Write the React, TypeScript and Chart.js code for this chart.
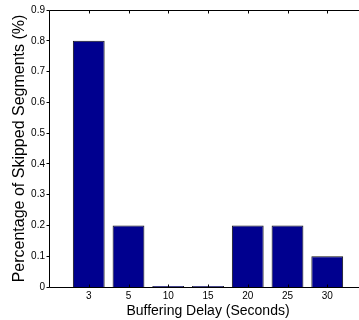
import React, { useEffect, useRef } from 'react';
import { Chart, registerables } from 'chart.js';

Chart.register(...registerables);

// Categories (blank slots at both ends reproduce the MATLAB-style x-limits)
const categories: string[] = ['', '3', '5', '10', '15', '20', '25', '30', ''];
const skipped: (number | null)[] = [null, 0.8, 0.2, 0.003, 0.003, 0.2, 0.2, 0.1, null];
const yTickValues: number[] = [0, 0.1, 0.2, 0.3, 0.4, 0.5, 0.6, 0.7, 0.8, 0.9];
const xTitle = 'Buffering Delay (Seconds)';
const yTitle = 'Percentage of Skipped Segments (%)';

const FONT = "'Liberation Sans', Arial, Helvetica, sans-serif";

const framePlugin = {
  id: 'matlabFrame',
  afterDatasetsDraw(chart: any) {
    const { ctx, chartArea, scales } = chart;
    const { left, right, top, bottom } = chartArea;
    const L = Math.floor(left) + 0.5;
    const R = Math.floor(right) + 0.5;
    const T = Math.floor(top) + 0.5;
    const B = Math.floor(bottom) + 0.5;
    ctx.save();
    ctx.strokeStyle = '#000';
    ctx.lineWidth = 1;
    ctx.beginPath();
    ctx.moveTo(L, T);
    ctx.lineTo(R, T);
    ctx.lineTo(R, B);
    ctx.lineTo(L, B);
    ctx.closePath();
    ctx.stroke();
    // x ticks (inward, bottom and top)
    ctx.beginPath();
    for (let i = 1; i < categories.length - 1; i++) {
      const px = Math.round(scales.x.getPixelForValue(i)) + 0.5;
      ctx.moveTo(px, B);
      ctx.lineTo(px, B - 3);
      ctx.moveTo(px, T);
      ctx.lineTo(px, T + 3);
    }
    // y ticks
    for (const v of yTickValues) {
      const py = Math.floor(scales.y.getPixelForValue(v)) + 0.5;
      ctx.moveTo(L, py);
      ctx.lineTo(L - 3, py);
      ctx.moveTo(R, py);
      ctx.lineTo(R - 3, py);
    }
    ctx.stroke();
    ctx.restore();
  },
};

export default function App() {
  const canvasRef = useRef<HTMLCanvasElement | null>(null);

  useEffect(() => {
    if (!canvasRef.current) return;
    const chart = new Chart(canvasRef.current, {
      type: 'bar',
      data: {
        labels: categories,
        datasets: [
          {
            data: skipped as any,
            backgroundColor: '#00008F',
            borderColor: '#111',
            borderWidth: 1,
            borderSkipped: 'start',
            categoryPercentage: 1,
            barPercentage: 0.8,
          },
        ],
      },
      options: {
        responsive: false,
        animation: false,
        devicePixelRatio: 1,
        layout: { padding: { top: 9, right: 13, left: 0, bottom: 0 } },
        plugins: {
          legend: { display: false },
          tooltip: { enabled: false },
        },
        scales: {
          x: {
            type: 'category',
            offset: false,
            grid: { display: false, drawTicks: false },
            border: { display: false },
            ticks: {
              color: '#000',
              font: { family: FONT, size: 10, lineHeight: 1.2 },
              padding: 3,
              autoSkip: false,
              maxRotation: 0,
              minRotation: 0,
            },
            title: {
              display: true,
              text: xTitle,
              color: '#000',
              font: { family: FONT, size: 14, lineHeight: 1.2 },
              padding: { top: 0, bottom: 0 },
            },
            afterFit: (s: any) => {
              s.height = 33;
            },
          },
          y: {
            min: 0,
            max: 0.9,
            grid: { display: false, drawTicks: false },
            border: { display: false },
            afterBuildTicks: (s: any) => {
              s.ticks = yTickValues.map((v) => ({ value: v }));
            },
            ticks: {
              color: '#000',
              font: { family: FONT, size: 10, lineHeight: 1.2 },
              padding: 4,
              callback: (v: any) => String(Math.round(Number(v) * 10) / 10),
            },
            title: {
              display: true,
              text: yTitle,
              color: '#000',
              font: { family: FONT, size: 16, lineHeight: 1.2 },
              padding: { top: 10, bottom: 0 },
            },
            afterFit: (s: any) => {
              s.width = 49;
            },
          },
        },
      },
      plugins: [framePlugin],
    });
    return () => chart.destroy();
  }, []);

  return (
    <div
      style={{
        position: 'fixed',
        left: 0,
        top: 0,
        width: 359,
        height: 320,
        overflow: 'hidden',
        background: '#fff',
      }}
    >
      <canvas
        ref={canvasRef}
        width={380}
        height={320}
        style={{ display: 'block', width: 380, height: 320 }}
      />
    </div>
  );
}
